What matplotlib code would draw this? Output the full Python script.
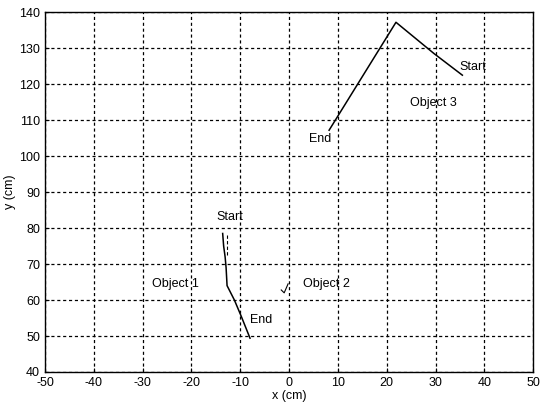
import matplotlib
matplotlib.use("Agg")
import matplotlib.pyplot as plt

plt.rcParams['font.family'] = ['Liberation Sans', 'DejaVu Sans']
plt.rcParams['axes.unicode_minus'] = False

# Object trajectories (cm)
obj1_x = [-13.6, -13.4, -13.1, -12.9, -12.7, -11.2, -9.8, -8.0]
obj1_y = [78.5, 75.0, 72.0, 69.0, 64.0, 60.0, 55.5, 49.4]
obj1b_x = [-12.8, -12.8]
obj1b_y = [78.0, 72.0]
obj2_x = [-1.6, -1.0, -0.2]
obj2_y = [62.8, 62.0, 64.5]
obj3_x = [8.2, 21.9, 29.7, 35.5]
obj3_y = [107.2, 137.2, 128.5, 122.5]

xticks = list(range(-50, 51, 10))
yticks = list(range(40, 141, 10))

fig = plt.figure(figsize=(5.4, 4.07), dpi=100)
ax = fig.add_axes([0.0833, 0.086, 0.904, 0.884])

ax.plot(obj1_x, obj1_y, color='black', lw=1.1)
ax.plot(obj1b_x, obj1b_y, color='black', lw=0.8, ls=(0, (3, 2)))
ax.plot(obj2_x, obj2_y, color='black', lw=0.8)
ax.plot(obj3_x, obj3_y, color='black', lw=1.1)

fs = 9
ax.text(-12.1, 83, 'Start', fontsize=fs, ha='center', va='center')
ax.text(-8.0, 54.5, 'End', fontsize=fs, ha='left', va='center')
ax.text(-23.2, 64.5, 'Object 1', fontsize=fs, ha='center', va='center')
ax.text(2.9, 64.5, 'Object 2', fontsize=fs, ha='left', va='center')
ax.text(29.5, 114.8, 'Object 3', fontsize=fs, ha='center', va='center')
ax.text(6.4, 104.8, 'End', fontsize=fs, ha='center', va='center')
ax.text(34.8, 124.7, 'Start', fontsize=fs, ha='left', va='center')

ax.set_xlim(-50, 50)
ax.set_ylim(40, 140)
ax.set_xticks(xticks)
ax.set_yticks(yticks)
ax.tick_params(direction='in', labelsize=fs, length=3)
ax.grid(True, color='black', ls=(0, (2.5, 2.2)), lw=0.9)
ax.set_xlabel('x (cm)', fontsize=fs, labelpad=1)
ax.set_ylabel('y (cm)', fontsize=fs, labelpad=2)
for s in ax.spines.values():
    s.set_linewidth(1.0)

fig.savefig('out.png', dpi=100)
